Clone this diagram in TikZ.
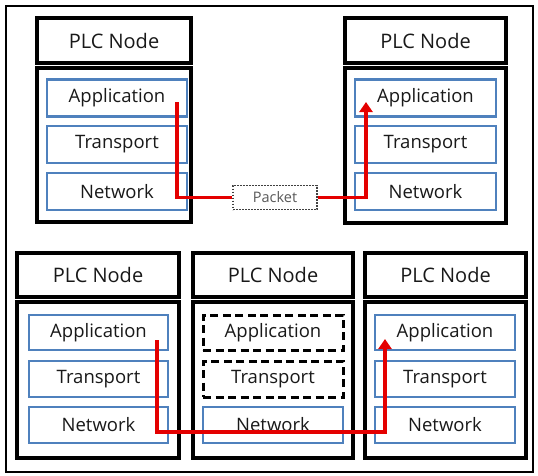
\documentclass[tikz,border=0pt]{standalone}
\usepackage{fontspec}
\setmainfont{Open Sans}
\usetikzlibrary{arrows.meta}
\definecolor{layerblue}{RGB}{79,129,189}
\definecolor{pathred}{RGB}{228,0,0}
\definecolor{txt}{RGB}{25,25,25}
\tikzset{
  hdr/.style={draw=black, line width=3.3pt, rectangle, inner sep=0pt, text=txt,
    font=\fontsize{20}{23}\selectfont},
  cont/.style={draw=black, line width=3.3pt, rectangle, inner sep=0pt},
  layer/.style={draw=layerblue, line width=2.8pt, rectangle, inner sep=0pt, text=txt,
    font=\fontsize{18.5}{22}\selectfont},
  ghost/.style={draw=black, line width=3pt, dash pattern=on 8pt off 4.5pt, rectangle, inner sep=0pt, text=txt,
    font=\fontsize{18.5}{22}\selectfont},
  pkt/.style={draw=black!75, line width=1.6pt, dash pattern=on 1.6pt off 1.4pt, rectangle, inner sep=0pt,
    text=black!65, font=\fontsize{14.5}{17}\selectfont},
  flow/.style={draw=pathred, line width=3.2pt},
  flowarrow/.style={flow, -{Triangle[width=13pt,length=10pt]}},
}
\begin{document}
\begin{tikzpicture}[x=1pt,y=-1pt]
\useasboundingbox (0,0) rectangle (538,475);
\fill[white] (0,0) rectangle (538,475);
\draw[line width=1.6pt, black] (6,6) rectangle (533,472);

% ---- top left node
\node[hdr, minimum width=154, minimum height=45] (tlh) at (114,40.5) {PLC Node};
\node[cont, minimum width=154, minimum height=154] (tlc) at (114,145) {};
\node[layer, minimum width=140, minimum height=37] (tla) at (117,98) {Application};
\node[layer, minimum width=140, minimum height=37] (tlt) at (117,144.5) {Transport};
\node[layer, minimum width=140, minimum height=37] (tln) at (117,191.5) {Network};

% ---- top right node
\node[hdr, minimum width=161, minimum height=45] (trh) at (425.5,40.5) {PLC Node};
\node[cont, minimum width=161, minimum height=155] (trc) at (425.5,145.5) {};
\node[layer, minimum width=141, minimum height=37] (tra) at (425.5,98) {Application};
\node[layer, minimum width=141, minimum height=37] (trt) at (425.5,144.5) {Transport};
\node[layer, minimum width=141, minimum height=37] (trn) at (425.5,191.5) {Network};

% ---- packet
\node[pkt, minimum width=84, minimum height=24] (pk) at (275,197.5) {Packet};

% ---- bottom left node
\node[hdr, minimum width=162, minimum height=44] (blh) at (98,275) {PLC Node};
\node[cont, minimum width=162, minimum height=156] (blc) at (98,380) {};
\node[layer, minimum width=139, minimum height=35] (bla) at (98.5,332.5) {Application};
\node[layer, minimum width=139, minimum height=36] (blt) at (98.5,379) {Transport};
\node[layer, minimum width=139, minimum height=36] (bln) at (98.5,425) {Network};

% ---- bottom middle node
\node[hdr, minimum width=160, minimum height=44] (bmh) at (273,275) {PLC Node};
\node[cont, minimum width=160, minimum height=156] (bmc) at (273,380) {};
\node[ghost, minimum width=140, minimum height=35] (bma) at (273,332.5) {Application};
\node[ghost, minimum width=140, minimum height=36] (bmt) at (273,379) {Transport};
\node[layer, minimum width=140, minimum height=36] (bmn) at (273,425) {Network};

% ---- bottom right node
\node[hdr, minimum width=161, minimum height=44] (brh) at (445.5,275) {PLC Node};
\node[cont, minimum width=161, minimum height=156] (brc) at (445.5,380) {};
\node[layer, minimum width=140, minimum height=35] (bra) at (445,332.5) {Application};
\node[layer, minimum width=140, minimum height=36] (brt) at (445,379) {Transport};
\node[layer, minimum width=140, minimum height=36] (brn) at (445,425) {Network};

% ---- flows
\coordinate (s1) at (177,102);
\coordinate (e1) at (366,102);
\draw[flow] (s1) |- (pk.west);
\draw[flowarrow] (pk.east) -| (e1);

\coordinate (s2) at (157,340);
\coordinate (c2) at (157,432);
\coordinate (e2) at (385,339);
\draw[flowarrow] (s2) -- (c2) -| (e2);
\end{tikzpicture}
\end{document}
